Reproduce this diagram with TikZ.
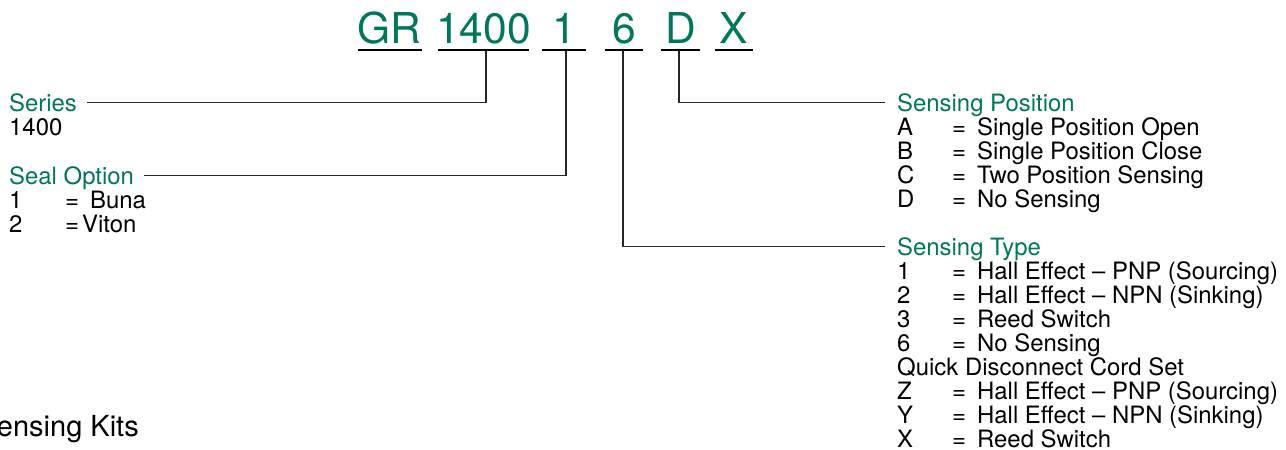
\documentclass[tikz,border=0pt]{standalone}
\usepackage{fontspec}
\setmainfont{TeX Gyre Heros}
\definecolor{brand}{RGB}{0,119,90}
\newcommand\kvline[2]{\makebox[55pt][l]{#1}=\hspace{11pt}#2}
\begin{document}
\begin{tikzpicture}[x=1pt,y=1pt,
  code/.style={text=brand, font=\fontsize{42.5}{42}\selectfont, inner sep=0pt, anchor=base},
  uline/.style={fill=black, inner sep=0pt, minimum height=2.2pt},
  hdr/.style={text=brand, font=\fontsize{23.9}{24}\selectfont, inner sep=0pt, text height=16.7pt, text depth=0pt, anchor=base west},
  item/.style={font=\fontsize{23.9}{24}\selectfont, inner sep=0pt, anchor=base west},
  conn/.style={draw=black!85, line width=1.2pt},
]
\useasboundingbox (0,0) rectangle (1286,-450);
\clip (0,0) rectangle (1286,-450);

% code letters
\node[code] (cGR) at (389,-43) {GR};
\node[code] (c1400) at (483.5,-43) {1400};
\node[code] (c1) at (564,-43) {1};
\node[code] (c6) at (624,-43) {6};
\node[code] (cD) at (680.5,-43) {D};
\node[code] (cX) at (734,-43) {X};

% underlines
\node[uline, minimum width=64pt] (uGR) at (390,-50) {};
\node[uline, minimum width=91pt] (u1400) at (483.5,-50) {};
\node[uline, minimum width=44pt] (u1) at (564,-50) {};
\node[uline, minimum width=38pt] (u6) at (624,-50) {};
\node[uline, minimum width=39pt] (uD) at (680.5,-50) {};
\node[uline, minimum width=38pt] (uX) at (734,-50) {};

% left groups
\node[hdr] (series) at (9,-111) {Series};
\node[item] (series1) at (9,-135) {1400};
\node[hdr] (seal) at (9,-184) {Seal Option};
\node[item] (seal1) at (9,-208) {\makebox[56pt][l]{1}=\hspace{11pt}Buna};
\node[item] (seal2) at (9,-232) {\makebox[56pt][l]{2}=\hspace{3pt}Viton};

% sensing position
\node[hdr] (spos) at (897,-111) {Sensing Position};
\node[item] (spos1) at (897,-135) {\kvline{A}{Single Position Open}};
\node[item] (spos2) at (897,-159) {\kvline{B}{Single Position Close}};
\node[item] (spos3) at (897,-183) {\kvline{C}{Two Position Sensing}};
\node[item] (spos4) at (897,-207) {\kvline{D}{No Sensing}};

% sensing type
\node[hdr] (stype) at (897,-255) {Sensing Type};
\node[item] (st1) at (897,-279) {\kvline{1}{Hall Effect – PNP (Sourcing)}};
\node[item] (st2) at (897,-303) {\kvline{2}{Hall Effect – NPN (Sinking)}};
\node[item] (st3) at (897,-327) {\kvline{3}{Reed Switch}};
\node[item] (st4) at (897,-351) {\kvline{6}{No Sensing}};
\node[item] (st5) at (897,-375) {Quick Disconnect Cord Set};
\node[item] (st6) at (897,-399) {\kvline{Z}{Hall Effect – PNP (Sourcing)}};
\node[item] (st7) at (897,-423) {\kvline{Y}{Hall Effect – NPN (Sinking)}};
\node[item] (st8) at (897,-447) {\kvline{X}{Reed Switch}};

% title, cut by the left edge as in the reference
\node[font=\fontsize{29}{29}\selectfont, inner sep=0pt, anchor=base east] (kits) at (139,-436) {Sensing Kits};

% connectors
\draw[conn] ([xshift=2.5pt]u1400.south) |- ([xshift=10pt]series.east);
\draw[conn] ([xshift=2pt]u1.south) |- ([xshift=10pt]seal.east);
\draw[conn] ([xshift=-1pt]u6.south) |- ([xshift=-12pt]stype.west);
\draw[conn] ([xshift=-1.5pt]uD.south) |- ([xshift=-12pt]spos.west);
\end{tikzpicture}
\end{document}
